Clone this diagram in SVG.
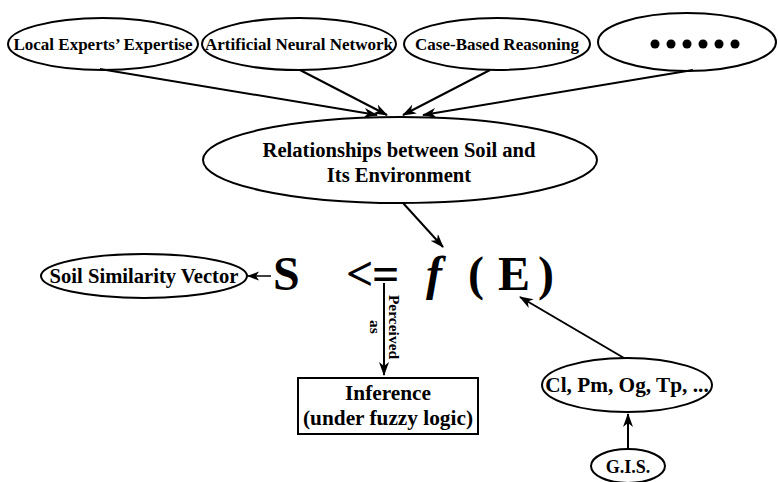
<svg xmlns="http://www.w3.org/2000/svg" width="778" height="482" viewBox="0 0 778 482">
<style>
.n ellipse, .n rect { fill:#fff; stroke:#000; stroke-width:2; }
text { font-family: "Liberation Serif", "Times New Roman", serif; font-weight: bold; fill:#000; }
.t16 { font-size:17px; text-anchor:middle; }
.t20 { font-size:20.6px; text-anchor:middle; }
.t21 { font-size:21.3px; text-anchor:middle; }
.t18 { font-size:18px; text-anchor:middle; }
.big { font-size:48px; }
.edges line { stroke:#000; stroke-width:2; fill:none; marker-end:url(#ah); }
.edges line.thin { stroke-width:1.5; marker-end:url(#ah2); }
</style>
<defs>
<marker id="ah" markerUnits="userSpaceOnUse" markerWidth="14" markerHeight="10" refX="13" refY="5" orient="auto">
<path d="M0,0 L14,5 L0,10 L4,5 z" fill="#000"/>
</marker>
<marker id="ah2" markerUnits="userSpaceOnUse" markerWidth="12" markerHeight="10" refX="11" refY="5" orient="auto">
<path d="M0,0.5 L12,5 L0,9.5 L3,5 z" fill="#000"/>
</marker>
</defs>

<g id="n-local" class="n">
<ellipse cx="103" cy="44" rx="95" ry="26"/>
<text class="t16" x="103" y="50">Local Experts’ Expertise</text>
</g>
<g id="n-ann" class="n">
<ellipse cx="299" cy="44" rx="97" ry="26"/>
<text class="t16" x="299" y="50">Artificial Neural Network</text>
</g>
<g id="n-cbr" class="n">
<ellipse cx="497" cy="44" rx="93" ry="26"/>
<text class="t16" x="497" y="50">Case-Based Reasoning</text>
</g>
<g id="n-more" class="n">
<ellipse cx="687" cy="42" rx="89" ry="29"/>
<g fill="#000">
<circle cx="655" cy="44" r="4.5"/><circle cx="671" cy="44" r="4.5"/><circle cx="687" cy="44" r="4.5"/>
<circle cx="703" cy="44" r="4.5"/><circle cx="719" cy="44" r="4.5"/><circle cx="735" cy="44" r="4.5"/>
</g>
</g>
<g id="n-rel" class="n">
<ellipse cx="400" cy="160" rx="197" ry="43"/>
<text class="t20" x="399" y="157">Relationships between Soil and</text>
<text class="t20" x="399" y="182">Its Environment</text>
</g>
<g id="n-ssv" class="n">
<ellipse cx="144" cy="276" rx="103" ry="22"/>
<text class="t20" x="144" y="283">Soil Similarity Vector</text>
</g>
<g id="n-formula">
<text class="big" x="273" y="290">S</text>
<text class="big" x="346" y="290">&lt;</text>
<text class="big" x="372" y="290">=</text>
<text class="big" x="426" y="290" style="font-style:italic">f</text>
<text class="big" x="468" y="290">(</text>
<text class="big" x="498" y="290">E</text>
<text class="big" x="538" y="290">)</text>
</g>
<g id="n-inf" class="n">
<rect x="298" y="378" width="180" height="56"/>
<text class="t21" x="388" y="400">Inference</text>
<text class="t21" x="388" y="425">(under fuzzy logic)</text>
</g>
<g id="n-cl" class="n">
<ellipse cx="627" cy="385" rx="85" ry="27"/>
<text class="t21" x="627" y="392">Cl, Pm, Og, Tp, ...</text>
</g>
<g id="n-gis" class="n">
<ellipse cx="628" cy="466" rx="37" ry="17"/>
<text class="t18" x="628" y="473">G.I.S.</text>
</g>

<g id="connectors" class="edges">
<line x1="100" y1="69" x2="377" y2="115"/>
<line x1="300" y1="70" x2="387" y2="115"/>
<line x1="490" y1="70" x2="403" y2="115"/>
<line x1="693" y1="70" x2="423" y2="115"/>
<line x1="403" y1="203" x2="443" y2="247"/>
<line x1="624" y1="358" x2="520" y2="297"/>
<line x1="628" y1="449" x2="628" y2="414"/>
<line class="thin" x1="271" y1="276" x2="248" y2="276"/>
<line x1="384" y1="283" x2="384" y2="375"/>
<text transform="translate(389,327) rotate(90)" style="font-size:15.5px" text-anchor="middle"><tspan x="0" y="0">Perceived</tspan><tspan x="0" y="19">as</tspan></text>
</g>
</svg>
